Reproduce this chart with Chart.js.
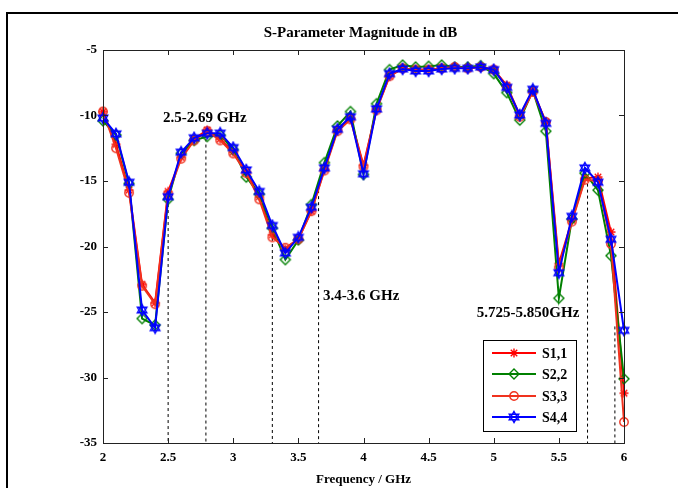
<!DOCTYPE html>
<html>
<head>
<meta charset="utf-8">
<script src="https://cdn.jsdelivr.net/npm/chart.js@4/dist/chart.umd.min.js"></script>
<style>
    html, body { margin: 0; padding: 0; background: #ffffff; }
    #wrap { position: relative; width: 678px; height: 488px; }
</style>
</head>
<body>
<div id="wrap"><canvas id="sparamChart" width="678" height="488"></canvas></div>
<script>
// frequency points (GHz)
const freqs = [2.0, 2.1, 2.2, 2.3, 2.4, 2.5, 2.6, 2.7, 2.8, 2.9,
               3.0, 3.1, 3.2, 3.3, 3.4, 3.5, 3.6, 3.7, 3.8, 3.9,
               4.0, 4.1, 4.2, 4.3, 4.4, 4.5, 4.6, 4.7, 4.8, 4.9,
               5.0, 5.1, 5.2, 5.3, 5.4, 5.5, 5.6, 5.7, 5.8, 5.9, 6.0];

const s11 = [-9.7, -12.2, -15.7, -22.9, -24.3, -15.8, -13.2, -11.8, -11.1, -11.8,
             -12.8, -14.3, -16.2, -19.1, -20.2, -19.4, -17.3, -14.1, -11.1, -10.2,
             -13.8, -9.5, -7.0, -6.4, -6.5, -6.5, -6.4, -6.3, -6.4, -6.3,
             -6.5, -7.7, -10.0, -8.1, -10.5, -21.3, -18.0, -14.8, -14.7, -18.9, -31.2];

const s22 = [-10.4, -11.5, -15.2, -25.5, -26.0, -16.4, -12.9, -11.9, -11.6, -11.5,
             -12.6, -14.7, -16.0, -18.6, -21.0, -19.5, -16.8, -13.6, -10.8, -9.7,
             -14.5, -9.1, -6.5, -6.15, -6.3, -6.25, -6.15, -6.3, -6.3, -6.2,
             -6.8, -8.25, -10.35, -8.1, -11.2, -23.95, -17.9, -14.4, -15.7, -20.7, -30.1];

const s33 = [-9.7, -12.5, -15.9, -23.0, -24.4, -16.0, -13.3, -11.9, -11.2, -11.9,
             -12.9, -14.4, -16.4, -19.3, -20.1, -19.45, -17.3, -14.2, -11.2, -10.3,
             -13.9, -9.6, -7.0, -6.4, -6.5, -6.5, -6.4, -6.3, -6.4, -6.3,
             -6.5, -7.8, -10.1, -8.2, -10.5, -21.6, -18.1, -14.9, -15.0, -19.8, -33.4];

const s44 = [-10.2, -11.4, -15.1, -24.85, -26.2, -16.2, -12.8, -11.7, -11.36, -11.35,
             -12.45, -14.16, -15.8, -18.4, -20.5, -19.3, -17.0, -14.0, -11.05, -10.1,
             -14.45, -9.5, -6.8, -6.45, -6.6, -6.6, -6.45, -6.4, -6.4, -6.3,
             -6.5, -7.85, -9.96, -8.0, -10.6, -22.0, -17.7, -14.0, -15.1, -19.45, -26.4];

const seriesNames = ['S1,1', 'S2,2', 'S3,3', 'S4,4'];

// dashed band markers: frequency and where the dashed line starts (dB)
const bandFreqs = [2.5, 2.79, 3.3, 3.655, 5.72, 5.93];
const bandTops = [-16.3, -11.3, -19.35, -15.7, -15.2, -26.1];

const xTicks = [2, 2.5, 3, 3.5, 4, 4.5, 5, 5.5, 6];
const yTicks = [-35, -30, -25, -20, -15, -10, -5];

const annotations = [
    { text: '2.5-2.69 GHz', f: 2.46, db: -10.2 },
    { text: '3.4-3.6 GHz', f: 3.69, db: -23.8 },
    { text: '5.725-5.850GHz', f: 4.87, db: -25.1 }
];

const BOLD14 = 'bold 14px "Liberation Serif", "Times New Roman", serif';
const BOLD15 = 'bold 15px "Liberation Serif", "Times New Roman", serif';

const colors = ['#ff0000', '#008000', '#f0321e', '#0000ff'];

// marker images (MATLAB-ish: *, diamond, o, hexagram)
function makeMarker(kind, color) {
    const size = 14;
    const c = document.createElement('canvas');
    c.width = size;
    c.height = size;
    const g = c.getContext('2d');
    const m = size / 2;
    g.strokeStyle = color;
    g.lineWidth = 1.4;
    g.beginPath();
    if (kind === 'asterisk') {
        const r = 4.5;
        const d = r * 0.72;
        g.moveTo(m - r, m); g.lineTo(m + r, m);
        g.moveTo(m, m - r); g.lineTo(m, m + r);
        g.moveTo(m - d, m - d); g.lineTo(m + d, m + d);
        g.moveTo(m - d, m + d); g.lineTo(m + d, m - d);
    } else if (kind === 'diamond') {
        const r = 5;
        g.moveTo(m, m - r); g.lineTo(m + r, m); g.lineTo(m, m + r); g.lineTo(m - r, m); g.closePath();
    } else if (kind === 'circle') {
        g.arc(m, m, 4.2, 0, Math.PI * 2);
    } else if (kind === 'hexagram') {
        // two overlapping triangles
        const r = 5.5;
        [-Math.PI / 2, Math.PI / 2].forEach(start => {
            for (let k = 0; k < 3; k++) {
                const a = start + k * 2 * Math.PI / 3;
                const px = m + r * Math.cos(a);
                const py = m + r * Math.sin(a);
                if (k === 0) g.moveTo(px, py); else g.lineTo(px, py);
            }
            g.closePath();
        });
    }
    g.stroke();
    return c;
}

const markers = [
    makeMarker('asterisk', colors[0]),
    makeMarker('diamond', colors[1]),
    makeMarker('circle', colors[2]),
    makeMarker('hexagram', colors[3])
];

function toPoints(values) {
    return freqs.map((f, i) => ({ x: f, y: values[i] }));
}

const seriesValues = [s11, s22, s33, s44];
const datasets = seriesValues.map((vals, i) => ({
    label: seriesNames[i],
    data: toPoints(vals),
    borderColor: colors[i],
    backgroundColor: colors[i],
    borderWidth: 2,
    pointStyle: markers[i],
    pointRadius: 5,
    pointHoverRadius: 5,
    tension: 0,
    clip: false,
    order: 10 - i
}));

bandFreqs.forEach((f, i) => {
    datasets.push({
        label: 'band' + i,
        data: [{ x: f, y: bandTops[i] }, { x: f, y: -35 }],
        borderColor: '#000000',
        borderWidth: 1,
        borderDash: [3, 3],
        pointRadius: 0,
        order: 20
    });
});

const tickFont = { family: '"Liberation Serif", serif', size: 13, weight: 'bold' };

const framePlugin = {
    id: 'frame',
    afterDraw(chart) {
        const ctx = chart.ctx;
        const a = chart.chartArea;
        const xs = chart.scales.x;
        const ys = chart.scales.y;
        ctx.save();

        // outer figure border
        ctx.strokeStyle = '#000000';
        ctx.lineWidth = 2;
        ctx.beginPath();
        ctx.moveTo(7, 488);
        ctx.lineTo(7, 13);
        ctx.lineTo(678, 13);
        ctx.stroke();

        // axes box
        ctx.lineWidth = 1;
        ctx.strokeStyle = '#222222';
        ctx.strokeRect(a.left + 0.5, a.top + 0.5, a.right - a.left, a.bottom - a.top);

        // inward ticks on all four sides
        const tl = 5;
        ctx.beginPath();
        xTicks.forEach(v => {
            const px = Math.round(xs.getPixelForValue(v)) + 0.5;
            ctx.moveTo(px, a.bottom); ctx.lineTo(px, a.bottom - tl);
            ctx.moveTo(px, a.top); ctx.lineTo(px, a.top + tl);
        });
        yTicks.forEach(v => {
            const py = Math.round(ys.getPixelForValue(v)) + 0.5;
            ctx.moveTo(a.left, py); ctx.lineTo(a.left + tl, py);
            ctx.moveTo(a.right, py); ctx.lineTo(a.right - tl, py);
        });
        ctx.stroke();

        // title
        ctx.fillStyle = '#000000';
        ctx.font = BOLD15;
        ctx.textAlign = 'center';
        ctx.textBaseline = 'middle';
        ctx.fillText('S-Parameter Magnitude in dB', (a.left + a.right) / 2 - 3, 33);

        // band annotations
        ctx.textAlign = 'left';
        annotations.forEach(n => {
            ctx.fillText(n.text, xs.getPixelForValue(n.f), ys.getPixelForValue(n.db));
        });

        // legend box
        const lx = 483, ly = 340, lw = 93, lh = 91;
        ctx.fillStyle = '#ffffff';
        ctx.fillRect(lx, ly, lw, lh);
        ctx.strokeStyle = '#000000';
        ctx.lineWidth = 1;
        ctx.strokeRect(lx + 0.5, ly + 0.5, lw, lh);
        const rows = [353, 374, 396, 417];
        seriesNames.forEach((name, i) => {
            ctx.strokeStyle = colors[i];
            ctx.lineWidth = 2;
            ctx.beginPath();
            ctx.moveTo(492, rows[i]);
            ctx.lineTo(536, rows[i]);
            ctx.stroke();
            ctx.drawImage(markers[i], 514 - markers[i].width / 2, rows[i] - markers[i].height / 2);
            ctx.fillStyle = '#000000';
            ctx.font = BOLD14;
            ctx.textAlign = 'left';
            ctx.fillText(name, 542, rows[i] + 1);
        });

        ctx.restore();
    }
};

const ctx = document.getElementById('sparamChart').getContext('2d');
const chart = new Chart(ctx, {
    type: 'line',
    data: { datasets: datasets },
    options: {
        responsive: false,
        animation: false,
        events: [],
        layout: { padding: { left: 0, top: 50, right: 54, bottom: 0 } },
        plugins: {
            legend: { display: false },
            title: { display: false },
            tooltip: { enabled: false }
        },
        scales: {
            x: {
                type: 'linear',
                min: 2,
                max: 6,
                afterFit: (s) => { s.height = 45; },
                afterBuildTicks: (s) => { s.ticks = xTicks.map(v => ({ value: v })); },
                grid: { display: false, drawTicks: false },
                border: { display: false },
                ticks: {
                    color: '#000000',
                    font: tickFont,
                    padding: 7,
                    maxRotation: 0,
                    callback: (v) => String(v)
                },
                title: {
                    display: true,
                    text: 'Frequency / GHz',
                    color: '#000000',
                    font: tickFont,
                    padding: { top: 0, bottom: 1 }
                }
            },
            y: {
                type: 'linear',
                min: -35,
                max: -5,
                afterFit: (s) => { s.width = 103; },
                afterBuildTicks: (s) => { s.ticks = yTicks.map(v => ({ value: v })); },
                grid: { display: false, drawTicks: false },
                border: { display: false },
                ticks: { color: '#000000', font: tickFont, padding: 6, callback: (v) => String(v) }
            }
        }
    },
    plugins: [framePlugin]
});
</script>
</body>
</html>
